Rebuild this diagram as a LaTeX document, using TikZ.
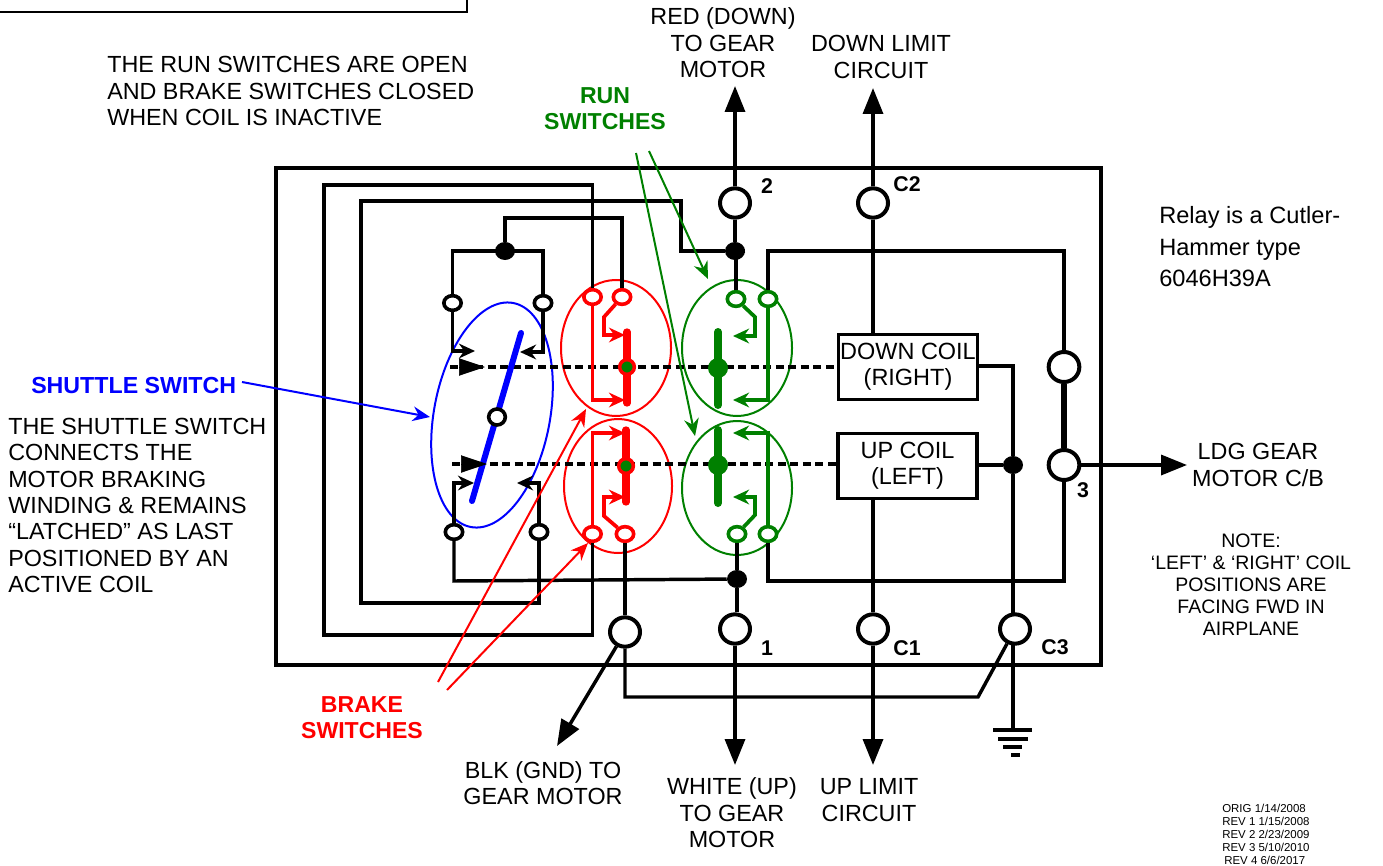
\documentclass[tikz,border=0pt]{standalone}
\usepackage{fontspec}
\setmainfont{Liberation Sans}
\usetikzlibrary{arrows.meta,shapes.geometric}
\definecolor{rd}{HTML}{FF0000}
\definecolor{gn}{HTML}{008000}
\definecolor{bl}{HTML}{0000FF}
\tikzset{
  wire/.style={line width=2.6pt,line join=miter},
  boxline/.style={line width=2.8pt},
  term/.style={ellipse,draw=black,fill=white,line width=3pt,inner sep=0pt,minimum width=22.5pt,minimum height=22pt},
  cont/.style={ellipse,draw=#1,fill=white,line width=2.7pt,inner sep=0pt,minimum width=13pt,minimum height=11pt},
  jun/.style={ellipse,fill=black,inner sep=0pt,minimum width=15pt,minimum height=13.5pt},
  group/.style={ellipse,draw=#1,line width=1.5pt,inner sep=0pt},
  coil/.style={rectangle,draw=black,line width=2.7pt,inner sep=0pt,minimum width=104pt,minimum height=49pt,align=center,font=\fontsize{17.6}{19.8}\selectfont},
  txt/.style={inner sep=0pt,align=center,font=\fontsize{17.5}{19.8}\selectfont},
  txtl/.style={inner sep=0pt,align=left,anchor=west,font=\fontsize{17.5}{19.8}\selectfont},
  lab/.style={inner sep=0pt,font=\fontsize{16}{18}\selectfont\bfseries},
  power/.style={wire,-{Triangle[length=19.5pt,width=15pt]}},
  pointer/.style={line width=1.5pt,draw=#1,-{Stealth[length=13pt,width=11pt]}},
  contactline/.style={line width=2.8pt,draw=#1,-{Stealth[length=12pt,width=11pt]}},
  smallarrow/.style={line width=2.6pt,-{Stealth[length=12pt,width=11pt]}},
  bigtip/.style={line width=.5pt,-{Triangle[length=19.5pt,width=13pt]}},
  link/.style={line width=2.6pt,dash pattern=on 6pt off 3.4pt},
  gndbar/.style={line width=2.6pt},
}
\begin{document}
\begin{tikzpicture}[x=.75pt,y=-.75pt]
\useasboundingbox (0,0) rectangle (1383,866);
\clip (0,0) rectangle (1383,866);
% header box remnant
\coordinate (hl) at (0,12); \coordinate (hc) at (467,12); \coordinate (ht) at (467,0);
\draw[line width=.8pt] (hl) -- (hc) -- (ht);
% outer relay box
\node[rectangle,draw=black,boxline,inner sep=0pt,minimum width=618.75pt,minimum height=372.75pt] (relay) at (688.5,416.5) {};
% groups
\node[group=bl,rotate=-10.7,minimum width=87pt,minimum height=171pt] (gshuttle) at (492,415) {};
\node[group=rd,minimum width=82.5pt,minimum height=102pt] (gru) at (616,348) {};
\node[group=rd,minimum width=81pt,minimum height=100.5pt] (grl) at (618,486) {};
\node[group=gn,minimum width=82.5pt,minimum height=102pt] (ggu) at (737,348) {};
\node[group=gn,minimum width=82.5pt,minimum height=100.5pt] (ggl) at (737,488) {};
% coils
\node[coil] (dcoil) at (908,367) {DOWN COIL\\(RIGHT)};
\node[coil] (ucoil) at (907.5,466) {UP COIL\\(LEFT)};
% dashed mechanical links
\coordinate (du) at (450,367); \coordinate (dl) at (452,464);
\draw[link] (du) -- (dcoil.west |- du);
\draw[link] (dl) -- (ucoil.west |- dl);
% terminals
\node[term] (t2) at (735,203) {};
\node[term] (tc2) at (873,203) {};
\node[term] (tgnd) at (625,632) {};
\node[term] (t1) at (735,629) {};
\node[term] (tc1) at (873,629) {};
\node[term] (tc3) at (1015,629) {};
\node[term,minimum width=23pt,minimum height=22.5pt] (t3a) at (1064,367) {};
\node[term,minimum width=23pt,minimum height=22.5pt] (t3b) at (1064,465) {};
% contacts
\node[cont=black] (s1) at (452.5,303) {};
\node[cont=black] (s2) at (543,303) {};
\node[cont=black] (s3) at (454,532) {};
\node[cont=black] (s4) at (539,532) {};
\node[cont=rd] (r1) at (592.5,297) {};
\node[cont=rd] (r2) at (622,297) {};
\node[cont=rd] (r3) at (592.5,534) {};
\node[cont=rd] (r4) at (625,534) {};
\node[cont=gn] (g1) at (736,299) {};
\node[cont=gn] (g2) at (768,299) {};
\node[cont=gn] (g3) at (737,534) {};
\node[cont=gn] (g4) at (768,534) {};
% junctions
\node[jun] (ja) at (505,251) {};
\node[jun] (jb) at (735,251) {};
\node[jun] (jc) at (737,579) {};
\node[jun] (jd) at (1013,465) {};
% external arrows
\coordinate (a2) at (735,86); \coordinate (ac2) at (873,88);
\coordinate (a1) at (735,765); \coordinate (ac1) at (873,765);
\coordinate (ablk) at (557,746); \coordinate (aldg) at (1187,465);
\draw[power] (t2) -- (a2);
\draw[power] (tc2) -- (ac2);
\draw[power] (t1) -- (a1);
\draw[power] (tc1) -- (ac1);
\draw[power] (tgnd) -- (ablk);
\draw[power] (t3b) -- (aldg);
% internal wires
\draw[wire] (t2) -- (jb) -- (g1 |- jb) -- (g1);
\draw[wire] (jb) -- (681,251) -- (681,201) -- (361,201) -- (361,603) -- (s4 |- 0,603) -- (s4);
\draw[wire] (ja) -- (505,218) -- (622,218) -- (r2);
\draw[wire] (s1) -- (452.5,251) -- (543,251) -- (s2);
\draw[wire] (r1) -- (592.5,185) -- (324,185) -- (324,635) -- (592.5,635) -- (r3);
\draw[wire] (r4) -- (tgnd);
\draw[wire] (s3) -- (454,581) -- (jc);
\draw[wire] (g3) -- (jc);
\draw[wire] (jc) -- (jc |- t1.north);
\draw[wire] (g4) -- (768,581) -- (1064,581) -- (t3b);
\draw[wire] (g2) -- (768,251) -- (1064,251) -- (t3a);
\draw[wire] (tc2) -- (dcoil.north -| tc2);
\draw[wire] (ucoil.south -| tc1) -- (tc1);
\draw[wire] (dcoil.east |- 0,366) -- (1013,366) -- (jd);
\draw[wire] (ucoil.east |- jd) -- (jd) -- (1013,615);
\draw[wire] (tgnd) -- (625,697) -- (978,697) -- (tc3);
\coordinate (gtop) at (1013,730);
\draw[wire] (1013,643) -- (gtop);
\draw[line width=5.2pt] (t3a) -- (t3b);
% ground symbol
\draw[gndbar] (993,730) -- (1032,730);
\draw[gndbar] (998,739) -- (1028,739);
\draw[gndbar] (1003,747) -- (1022,747);
\draw[gndbar] (1011,755) -- (1020,755);
% shuttle switch
\coordinate (sbt) at (521,333); \coordinate (sbb) at (472,501);
\draw[draw=bl,line width=4.5pt,line cap=round] (sbt) -- (sbb);
\node[cont=black,minimum width=12.5pt,minimum height=12pt] (sc) at (497,417) {};
\draw[smallarrow] (s1) -- (452.5,351) -- (475,351);
\draw[smallarrow] (s2) -- (543,352) -- (520,352);
\draw[smallarrow] (s3) -- (454,483) -- (474,483);
\draw[smallarrow] (s4) -- (539,483) -- (517,483);
\draw[bigtip] (459,367) -- (485,367);
\draw[bigtip] (462,464) -- (487,464);
% red contacts
\draw[draw=rd,line width=5.5pt,line cap=round] (627,332) -- (627,403);
\draw[draw=rd,line width=5.5pt,line cap=round] (626,430) -- (626,502);
\draw[contactline=rd] (r1) -- (592.5,400) -- (625,400);
\draw[contactline=rd] (r2) -- (604,317) -- (604,335) -- (625,335);
\draw[contactline=rd] (r3) -- (592.5,433) -- (625,433);
\draw[contactline=rd] (r4) -- (604,516) -- (604,497) -- (625,497);
\node[circle,fill=gn,draw=rd,line width=2.6pt,inner sep=0pt,minimum size=11pt] (rdu) at (627,367) {};
\node[circle,fill=gn,draw=rd,line width=2.6pt,inner sep=0pt,minimum size=11pt] (rdl) at (626,466) {};
% green contacts
\draw[draw=gn,line width=6pt,line cap=round] (718,332) -- (718,405);
\draw[draw=gn,line width=6pt,line cap=round] (718,430) -- (718,503);
\draw[contactline=gn] (g1) -- (755,317) -- (755,336) -- (733,336);
\draw[contactline=gn] (g2) -- (768,400) -- (733,400);
\draw[contactline=gn] (g3) -- (755,515) -- (755,497) -- (733,497);
\draw[contactline=gn] (g4) -- (768,433) -- (733,433);
\node[circle,fill=gn,inner sep=0pt,minimum size=15pt] (gdu) at (718,368) {};
\node[circle,fill=gn,inner sep=0pt,minimum size=15pt] (gdl) at (718,465) {};
% texts
\node[txtl] (tnote1) at (107,91) {THE RUN SWITCHES ARE OPEN\\AND BRAKE SWITCHES CLOSED\\WHEN COIL IS INACTIVE};
\node[txt,text=gn,font=\fontsize{17.3}{19.3}\selectfont\bfseries] (trun) at (605,108.5) {RUN\\SWITCHES};
\node[txt] (tred) at (723,43) {RED (DOWN)\\TO GEAR\\MOTOR};
\node[txt] (tdl) at (881,57) {DOWN LIMIT\\CIRCUIT};
\node[txtl,font=\fontsize{17.7}{23.6}\selectfont] (trelay) at (1159,247) {Relay is a Cutler-\\Hammer type\\6046H39A};
\node[txtl,text=bl,font=\fontsize{17.4}{19.8}\selectfont\bfseries] (tshut) at (31,386) {SHUTTLE SWITCH};
\node[txtl] (tshn) at (8,505.5) {THE SHUTTLE SWITCH\\CONNECTS THE\\MOTOR BRAKING\\WINDING \& REMAINS\\“LATCHED” AS LAST\\POSITIONED BY AN\\ACTIVE COIL};
\node[txt,text=rd,font=\fontsize{17.3}{19.3}\selectfont\bfseries] (tbrake) at (362,717.5) {BRAKE\\SWITCHES};
\node[txt] (tblk) at (543,783) {BLK (GND) TO\\GEAR MOTOR};
\node[txt] (twht) at (732,813) {WHITE (UP)\\TO GEAR\\MOTOR};
\node[txt] (tul) at (869,800) {UP LIMIT\\CIRCUIT};
\node[txt] (tldg) at (1258,465) {LDG GEAR\\MOTOR C/B};
\node[txt,font=\fontsize{14.6}{16.4}\selectfont] (tnote) at (1251,584.5) {NOTE:\\‘LEFT’ \& ‘RIGHT’ COIL\\POSITIONS ARE\\FACING FWD IN\\AIRPLANE};
\node[inner sep=0pt,align=left,anchor=north west,font=\fontsize{8.6}{9.8}\selectfont] (trev) at (1222,804) {ORIG 1/14/2008\\REV 1 1/15/2008\\REV 2 2/23/2009\\REV 3 5/10/2010\\\hspace*{1.5pt}REV 4 6/6/2017};
\node[lab] (l2) at (767,186) {2};
\node[lab] (lc2) at (907,184) {C2};
\node[lab] (l1) at (767,648) {1};
\node[lab] (lc1) at (907,648) {C1};
\node[lab] (lc3) at (1055,647) {C3};
\node[lab] (l3) at (1083,490) {3};
% pointers
\coordinate (pg1) at (636,153); \coordinate (pg2) at (649,151);
\coordinate (pr1) at (438,682); \coordinate (pr2) at (447,690);
\coordinate (pb) at (242,382);
\draw[pointer=gn] (pg1) -- (695,436);
\draw[pointer=gn] (pg2) -- (708,279);
\draw[pointer=rd] (pr1) -- (586,409);
\draw[pointer=rd] (pr2) -- (588,543);
\draw[pointer=bl] (pb) -- (430,417);
\end{tikzpicture}
\end{document}
